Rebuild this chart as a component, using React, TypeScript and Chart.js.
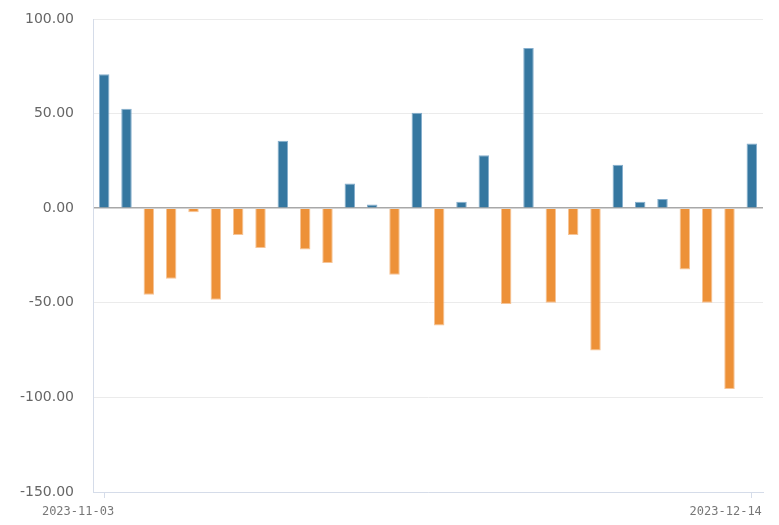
import React, { useEffect, useRef } from "react";
import { Chart, registerables } from "chart.js";

Chart.register(...registerables);

const dates: string[] = [
  "2023-11-03", "2023-11-06", "2023-11-07", "2023-11-08", "2023-11-09", "2023-11-10",
  "2023-11-13", "2023-11-14", "2023-11-15", "2023-11-16", "2023-11-17",
  "2023-11-20", "2023-11-21", "2023-11-22", "2023-11-23", "2023-11-24",
  "2023-11-27", "2023-11-28", "2023-11-29", "2023-11-30", "2023-12-01",
  "2023-12-04", "2023-12-05", "2023-12-06", "2023-12-07", "2023-12-08",
  "2023-12-11", "2023-12-12", "2023-12-13", "2023-12-14",
];

const values: number[] = [
  70.8, 52.5, -45.8, -37.3, -2.1, -48.4, -14.1, -21.1, 35.6, -21.8,
  -28.9, 13.0, 1.9, -35.2, 50.4, -62.0, 3.4, 28.0, -50.7, 84.7,
  -50.0, -14.1, -75.2, 22.9, 3.4, 4.8, -32.4, -50.0, -95.6, 34.2,
];

const yTicks: number[] = [-150, -100, -50, 0, 50, 100];

const POS = "#3577a0";
const NEG = "#ed9138";
const POS_EDGE = "rgba(120,165,200,0.9)";
const NEG_EDGE = "rgba(245,190,140,0.9)";

export default function App() {
  const ref = useRef<HTMLCanvasElement | null>(null);

  useEffect(() => {
    if (!ref.current) return;
    const chart = new Chart(ref.current, {
      type: "bar",
      data: {
        labels: dates,
        datasets: [
          {
            data: values,
            backgroundColor: values.map((v) => (v >= 0 ? POS : NEG)),
            borderColor: values.map((v) => (v >= 0 ? POS_EDGE : NEG_EDGE)),
            borderWidth: 1,
            barPercentage: 0.47,
            categoryPercentage: 1,
          },
        ],
      },
      options: {
        responsive: false,
        maintainAspectRatio: false,
        animation: false,
        layout: { padding: { top: 19, right: 16, left: 0, bottom: 0 } },
        plugins: {
          legend: { display: false },
          tooltip: { enabled: false },
        },
        scales: {
          x: {
            offset: true,
            grid: {
              offset: false,
              drawOnChartArea: false,
              drawTicks: true,
              tickLength: 6,
              color: "#d5dce9",
            },
            border: { display: true, color: "#d5dce9" },
            afterBuildTicks: (scale: any) => {
              const t = scale.ticks;
              scale.ticks = [t[0], t[t.length - 1]];
            },
            afterFit: (scale: any) => {
              scale.height = 33;
              scale.paddingLeft = 0;
              scale.paddingRight = 0;
            },
            ticks: {
              autoSkip: false,
              maxRotation: 0,
              align: "end",
              labelOffset: 10,
              padding: 7,
              color: "#777",
              font: { family: "'DejaVu Sans Mono', monospace", size: 12 },
            },
          },
          y: {
            min: -150,
            max: 100,
            afterBuildTicks: (scale: any) => {
              scale.ticks = yTicks.map((v) => ({ value: v }));
            },
            afterFit: (scale: any) => {
              scale.width = 93;
              scale.paddingTop = 0;
              scale.paddingBottom = 0;
            },
            grid: {
              drawTicks: false,
              color: (ctx: any) => (ctx.tick && ctx.tick.value === 0 ? "#a8a8a8" : "#ebebeb"),
              lineWidth: (ctx: any) => (ctx.tick && ctx.tick.value === 0 ? 1.5 : 1),
            },
            border: { display: true, color: "#d5dce9" },
            ticks: {
              padding: 19,
              color: "#666",
              font: { family: "'DejaVu Sans', sans-serif", size: 14 },
              callback: (v: any) => Number(v).toFixed(2),
            },
          },
        },
      },
    });
    return () => chart.destroy();
  }, []);

  return (
    <div style={{ position: "absolute", left: 0, top: 0, width: 779, height: 525, background: "#fff" }}>
      <canvas ref={ref} width={779} height={525} style={{ display: "block" }} />
    </div>
  );
}
